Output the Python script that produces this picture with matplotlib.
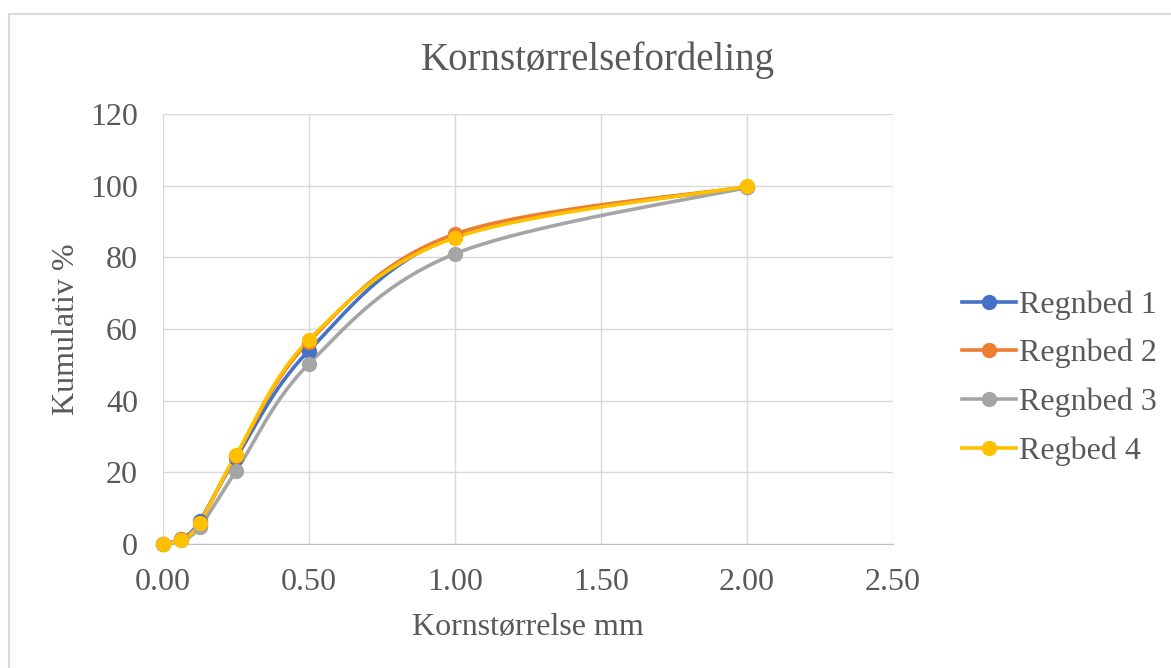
import numpy as np
import matplotlib.pyplot as plt
from matplotlib.patches import Rectangle

plt.rcParams['font.family'] = ['Liberation Serif', 'DejaVu Serif']

korn = [0.0, 0.063, 0.125, 0.25, 0.5, 1.0, 2.0]
regnbed1 = [0.0, 1.4, 6.3, 24.0, 54.0, 86.0, 99.6]
regnbed2 = [0.0, 1.3, 5.8, 24.6, 56.5, 86.5, 99.7]
regnbed3 = [0.0, 1.0, 4.7, 20.3, 50.3, 81.0, 99.5]
regbed4 = [0.0, 1.2, 5.8, 24.8, 57.0, 85.5, 99.8]

names = ['Regnbed 1', 'Regnbed 2', 'Regnbed 3', 'Regbed 4']
series = [regnbed1, regnbed2, regnbed3, regbed4]
colors = ['#4472C4', '#ED7D31', '#A5A5A5', '#FFC000']
txt = '#595959'


def smooth(x, y, n=30):
    # excel-ish smoothed line: catmull-rom style bezier segments
    x = np.asarray(x, float)
    y = np.asarray(y, float)
    px = np.concatenate([[x[0]], x, [x[-1]]])
    py = np.concatenate([[y[0]], y, [y[-1]]])
    xs, ys = [], []
    t = np.linspace(0, 1, n)
    for i in range(1, len(px) - 2):
        p0 = np.array([px[i], py[i]])
        p3 = np.array([px[i + 1], py[i + 1]])
        p1 = p0 + (np.array([px[i + 1], py[i + 1]]) - np.array([px[i - 1], py[i - 1]])) / 6
        p2 = p3 - (np.array([px[i + 2], py[i + 2]]) - np.array([px[i], py[i]])) / 6
        b = ((1 - t) ** 3)[:, None] * p0 + (3 * (1 - t) ** 2 * t)[:, None] * p1 \
            + (3 * (1 - t) * t ** 2)[:, None] * p2 + (t ** 3)[:, None] * p3
        xs.extend(b[:, 0])
        ys.extend(b[:, 1])
    return xs, ys


W, H = 1171, 668
fig = plt.figure(figsize=(W / 100, H / 100), dpi=100)
# chart border, only top and left edges show inside the image
fig.patches.append(Rectangle((9 / W, -0.05), 1.1, 1 - 14 / H + 0.05, transform=fig.transFigure,
                             fill=False, edgecolor='#D9D9D9', lw=1.5))
ax = fig.add_axes([163 / W, 1 - 544 / H, 730 / W, 430 / H])

for name, vals, c in zip(names, series, colors):
    sx, sy = smooth(korn, vals)
    ax.plot(sx, sy, color=c, lw=2.6, zorder=3, clip_on=False)
    ax.plot(korn, vals, 'o', color=c, ms=10, zorder=4, clip_on=False)
    ax.plot([], [], '-o', color=c, lw=2.6, ms=10, label=name)

ax.set_xlim(0, 2.5)
ax.set_ylim(0, 120)
ax.set_xticks(np.arange(0, 2.51, 0.5))
ax.set_xticklabels(['%.2f' % v for v in np.arange(0, 2.51, 0.5)])
ax.set_yticks(range(0, 121, 20))
ax.grid(True, color='#D9D9D9', lw=1)
ax.set_axisbelow(True)
for s in ['top', 'right', 'left']:
    ax.spines[s].set_visible(False)
ax.spines['bottom'].set_color('#BFBFBF')
ax.tick_params(length=0, labelsize=23, colors=txt)
ax.tick_params(axis='x', pad=17)
ax.tick_params(axis='y', pad=18)

ax.set_title('Kornstørrelsefordeling', fontsize=28, color=txt, pad=0,
             x=(598 - 163) / 730, y=(544 - 60) / 430, va='center')
ax.set_xlabel('Kornstørrelse mm', fontsize=23, color=txt, va='center')
ax.set_ylabel('Kumulativ %', fontsize=23, color=txt, va='center')
ax.xaxis.set_label_coords(0.5, (544 - 628) / 430)
ax.yaxis.set_label_coords((66 - 163) / 730, 0.5)

leg = ax.legend(loc='center left', bbox_to_anchor=((962 - 163) / 730, (544 - 378) / 430),
                frameon=False, fontsize=23, labelcolor=txt, handlelength=1.7,
                handletextpad=0.1, labelspacing=0.6, borderpad=0, borderaxespad=0)

fig.savefig('out.png', dpi=100)
